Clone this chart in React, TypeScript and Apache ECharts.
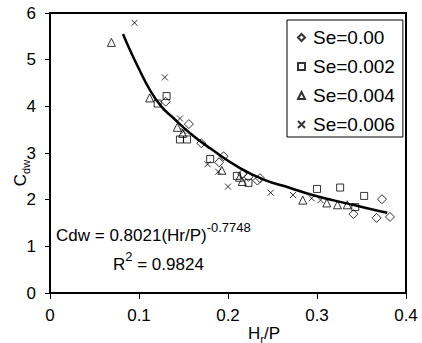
import React, { useEffect, useRef } from "react";
import * as echarts from "echarts";

const seriesNames = ["Se=0.00", "Se=0.002", "Se=0.004", "Se=0.006"];

const se000: [number, number][] = [
  [0.130, 4.10], [0.156, 3.62], [0.170, 3.21], [0.190, 2.80], [0.195, 2.93],
  [0.216, 2.55], [0.223, 2.49], [0.233, 2.41], [0.236, 2.46], [0.341, 1.69],
  [0.367, 1.61], [0.373, 2.01], [0.382, 1.63],
];
const se002: [number, number][] = [
  [0.121, 4.06], [0.131, 4.22], [0.146, 3.29], [0.154, 3.29], [0.180, 2.87],
  [0.210, 2.51], [0.223, 2.36], [0.300, 2.23], [0.326, 2.26], [0.343, 1.84],
  [0.353, 2.08],
];
const se004: [number, number][] = [
  [0.069, 5.37], [0.112, 4.18], [0.143, 3.55], [0.149, 3.42], [0.193, 2.63],
  [0.213, 2.48], [0.216, 2.39], [0.284, 1.99], [0.311, 1.93], [0.323, 1.89],
  [0.334, 1.89],
];
const se006: [number, number][] = [
  [0.095, 5.79], [0.129, 4.62], [0.146, 3.74], [0.150, 3.47], [0.177, 2.76],
  [0.189, 2.60], [0.200, 2.28], [0.248, 2.15], [0.273, 2.10], [0.294, 2.03],
  [0.304, 1.99],
];

// trend curve
const trendX = [0.082, 0.09, 0.1, 0.112, 0.125, 0.138, 0.157, 0.18, 0.213, 0.24, 0.27, 0.295, 0.32, 0.34, 0.36, 0.379];
const trendY = [5.55, 5.2, 4.8, 4.36, 4.0, 3.76, 3.43, 3.1, 2.68, 2.43, 2.25, 2.1, 1.98, 1.89, 1.8, 1.72];

const FONT = "'Liberation Sans', Arial, sans-serif";
const XMARK = "path://M0,0L10,10M10,0L0,10";

const markerStyle = { color: "rgba(0,0,0,0)", borderColor: "#000", borderWidth: 1 };

const supRich = {
  m: { fontSize: 17, fontFamily: FONT, fill: "#000", lineHeight: 28, verticalAlign: "middle" },
  s: { fontSize: 13, fontFamily: FONT, fill: "#000", lineHeight: 13, verticalAlign: "top" },
};
const subRich = {
  m: { fontSize: 17, fontFamily: FONT, fill: "#000", lineHeight: 22, verticalAlign: "middle" },
  b: { fontSize: 11, fontFamily: FONT, fill: "#000", lineHeight: 11, verticalAlign: "bottom" },
};

export default function App() {
  const ref = useRef<HTMLDivElement>(null);
  useEffect(() => {
    if (!ref.current) return;
    const chart = echarts.init(ref.current, null, { renderer: "svg" });
    const symbols = ["diamond", "rect", "triangle", XMARK];
    const sizes = [9, 7, 8, 6];
    const sets = [se000, se002, se004, se006];
    const option: any = {
      animation: false,
      backgroundColor: "#fff",
      grid: { left: 50, right: 16, top: 13, bottom: 50, show: true, borderColor: "#000", borderWidth: 2, containLabel: false },
      xAxis: {
        type: "value", min: 0, max: 0.4, interval: 0.1,
        axisLine: { show: true, onZero: false, lineStyle: { color: "#000", width: 2 } },
        axisTick: { show: true, length: 6, lineStyle: { color: "#000", width: 1 } },
        axisLabel: { color: "#000", fontSize: 17, fontFamily: FONT, margin: 14 },
        splitLine: { show: false },
      },
      yAxis: {
        type: "value", min: 0, max: 6, interval: 1,
        axisLine: { show: true, onZero: false, lineStyle: { color: "#000", width: 2 } },
        axisTick: { show: true, length: 5, lineStyle: { color: "#000", width: 1 } },
        axisLabel: { color: "#000", fontSize: 17, fontFamily: FONT, margin: 14 },
        splitLine: { show: false },
      },
      legend: {
        data: seriesNames,
        orient: "vertical",
        left: 287,
        top: 20,
        padding: [8, 8, 3, 10],
        itemGap: 10,
        itemWidth: 7,
        itemHeight: 7,
        backgroundColor: "#fff",
        borderColor: "#000",
        borderWidth: 1,
        borderRadius: 0,
        textStyle: { color: "#000", fontSize: 19, fontFamily: FONT, lineHeight: 19, padding: [0, 0, 0, 3] },
      },
      series: [
        ...sets.map((d, i) => ({
          name: seriesNames[i],
          type: "scatter",
          symbol: symbols[i],
          symbolSize: sizes[i],
          data: d,
          itemStyle: markerStyle,
          z: 3,
        })),
        {
          name: "trend",
          type: "line",
          data: trendX.map((x, i) => [x, trendY[i]]),
          smooth: true,
          showSymbol: false,
          lineStyle: { color: "#000", width: 2.5 },
          z: 2,
        },
      ],
      graphic: [
        {
          type: "text", x: 56, y: 235,
          style: { text: "{m|Cdw = 0.8021(Hr/P)}{s|-0.7748}", align: "left", verticalAlign: "middle", rich: supRich },
        },
        {
          type: "text", x: 113, y: 264,
          style: { text: "{m|R}{s|2}{m| = 0.9824}", align: "left", verticalAlign: "middle", rich: supRich },
        },
        {
          type: "text", x: 248, y: 333,
          style: { text: "{m|H}{b|r}{m|/P}", align: "left", verticalAlign: "middle", rich: subRich },
        },
        {
          type: "text", x: 20, y: 173, rotation: Math.PI / 2,
          style: { text: "{m|C}{b|dw}", align: "center", verticalAlign: "middle", rich: subRich },
        },
      ],
    };
    chart.setOption(option);
    return () => chart.dispose();
  }, []);
  return <div ref={ref} style={{ width: 422, height: 343, position: "absolute", left: 0, top: 0 }} />;
}
